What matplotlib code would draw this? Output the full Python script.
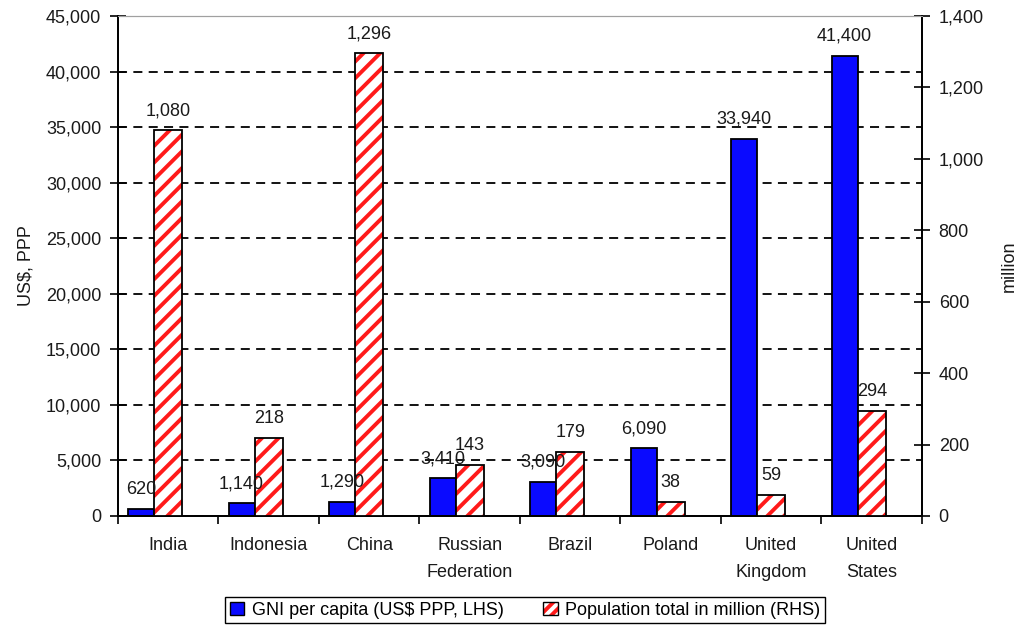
import matplotlib
matplotlib.use("Agg")
import matplotlib.pyplot as plt
from matplotlib.patches import Patch
from matplotlib.legend_handler import HandlerTuple
import numpy as np

categories = ["India", "Indonesia", "China", "Russian\nFederation", "Brazil",
              "Poland", "United\nKingdom", "United\nStates"]
gni = [620, 1140, 1290, 3410, 3090, 6090, 33940, 41400]
population = [1080, 218, 1296, 143, 179, 38, 59, 294]
gni_labels = ["620", "1,140", "1,290", "3,410", "3,090", "6,090", "33,940", "41,400"]
pop_labels = ["1,080", "218", "1,296", "143", "179", "38", "59", "294"]
left_ticks = list(range(0, 45001, 5000))
right_ticks = list(range(0, 1401, 200))

plt.rcParams['font.family'] = ['Liberation Sans', 'DejaVu Sans']
plt.rcParams['hatch.linewidth'] = 2.8

FS = 13
TXT = "#1a1a1a"

fig = plt.figure(figsize=(10.2, 6.27), dpi=100)
ax = fig.add_axes([118/1020, 111/627, (922-118)/1020, 500/627])
ax2 = ax.twinx()

x = np.arange(len(categories))
blue = "#0a0aff"
ax.bar(x - 0.27, gni, width=0.26, color=blue, edgecolor="black", linewidth=1.3, zorder=3)
ax2.bar(x, population, width=0.28, color="white", edgecolor="#ff1a1a", hatch="//",
        linewidth=0, zorder=3)
ax2.bar(x, population, width=0.28, fill=False, edgecolor="black", linewidth=1.3, zorder=4)

ax.set_xlim(-0.5, len(categories) - 0.5)
ax.set_ylim(0, 45000)
ax2.set_ylim(0, 1400)

ax.set_yticks(left_ticks)
ax.set_yticklabels([f"{v:,}" for v in left_ticks])
ax2.set_yticks(right_ticks)
ax2.set_yticklabels([f"{v:,}" for v in right_ticks])

ax.yaxis.grid(True, linestyle=(0, (5, 3.5)), color="black", linewidth=1.3)
ax.set_axisbelow(True)

# category boundaries as major ticks, labels on minor ticks
ax.set_xticks(np.arange(-0.5, len(categories), 1.0))
ax.set_xticklabels([])
ax.set_xticks(x, minor=True)
ax.set_xticklabels(categories, minor=True, fontsize=FS, color=TXT, linespacing=1.75)
ax.tick_params(axis="x", which="major", direction="out", length=6, width=1.2)
ax.tick_params(axis="x", which="minor", length=0, pad=15)

ax.tick_params(axis="y", direction="inout", length=12, width=1.2, labelsize=FS,
               labelcolor=TXT, pad=6)
ax2.tick_params(axis="y", direction="inout", length=12, width=1.2, labelsize=FS,
                labelcolor=TXT, pad=6)

for a in (ax, ax2):
    a.spines["top"].set_color("#a0a0a0")
    a.spines["left"].set_linewidth(1.3)
    a.spines["right"].set_linewidth(1.3)
    a.spines["bottom"].set_linewidth(1.3)

ax.set_ylabel("US$, PPP", fontsize=FS, color=TXT, labelpad=8)
ax2.set_ylabel("million", fontsize=FS, color=TXT, labelpad=12)

for xi, v, lab in zip(x, gni, gni_labels):
    ax2.annotate(lab, (xi - 0.27, v), xycoords=ax.transData, xytext=(0, 8),
                 textcoords="offset points", ha="center", va="bottom",
                 fontsize=FS, color=TXT, zorder=6)
for xi, v, lab in zip(x, population, pop_labels):
    ax2.annotate(lab, (xi, v), xytext=(0, 8), textcoords="offset points",
                 ha="center", va="bottom", fontsize=FS, color=TXT, zorder=6)

h1 = Patch(facecolor=blue, edgecolor="black", linewidth=1.0)
h2a = Patch(facecolor="white", edgecolor="#ff1a1a", hatch="///", linewidth=0)
h2b = Patch(fill=False, edgecolor="black", linewidth=1.0)
leg = fig.legend([h1, (h2a, h2b)],
                 ["GNI per capita (US$ PPP, LHS)", "Population total in million (RHS)"],
                 handler_map={tuple: HandlerTuple(ndivide=1)},
                 loc="upper center", bbox_to_anchor=(525/1020, 30/627), ncol=2,
                 fontsize=FS, frameon=True, fancybox=False, edgecolor="black",
                 framealpha=1, handlelength=0.8, handleheight=0.8, handletextpad=0.4,
                 columnspacing=2.2, borderpad=0.25, borderaxespad=0)
leg.get_frame().set_linewidth(1.0)

fig.savefig("out.png", dpi=100)
